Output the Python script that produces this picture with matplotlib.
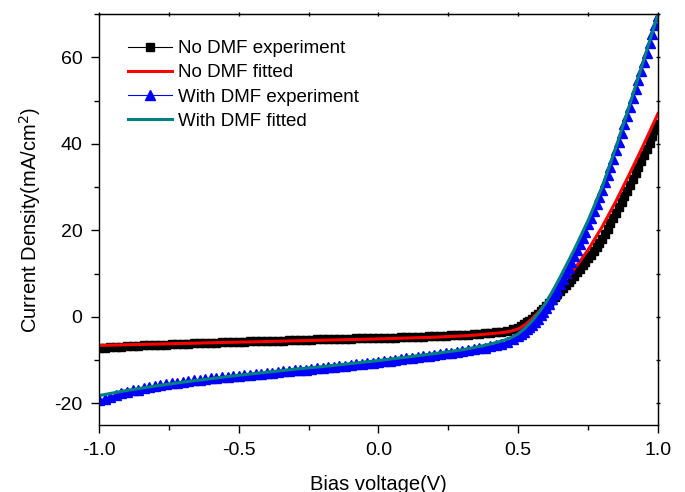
import numpy as np
import matplotlib
matplotlib.use('Agg')
import matplotlib.pyplot as plt
from matplotlib.ticker import MultipleLocator

plt.rcParams['font.family'] = ['Liberation Sans', 'DejaVu Sans']
plt.rcParams['axes.unicode_minus'] = False

# measured points: 0.02 V step below 0.5 V, 0.01 V step above
v_exp = np.round(np.concatenate([np.arange(-1.0, 0.49, 0.02), np.arange(0.50, 1.001, 0.01)]), 2)

j_no_dmf_exp = [
    -7.2, -7.1, -7.0, -7.0, -6.9, -6.8, -6.8, -6.7, -6.6, -6.6,
    -6.5, -6.4, -6.4, -6.3, -6.3, -6.2, -6.2, -6.1, -6.1, -6.0,
    -6.0, -6.0, -5.9, -5.9, -5.8, -5.8, -5.8, -5.7, -5.7, -5.6,
    -5.6, -5.6, -5.5, -5.5, -5.4, -5.4, -5.4, -5.3, -5.3, -5.2,
    -5.2, -5.2, -5.2, -5.1, -5.1, -5.1, -5.0, -5.0, -5.0, -4.9,
    -4.9, -4.9, -4.8, -4.8, -4.7, -4.7, -4.7, -4.6, -4.6, -4.5,
    -4.5, -4.4, -4.4, -4.3, -4.3, -4.2, -4.1, -4.0, -3.9, -3.8,
    -3.7, -3.6, -3.4, -3.2, -2.9,
    -2.5, -2.1, -1.7, -1.3, -0.9, -0.5, 0.1, 0.7, 1.3, 1.9,
    2.5, 3.2, 3.9, 4.6, 5.3, 6.0, 6.7, 7.4, 8.1, 8.8,
    9.5, 10.3, 11.1, 11.9, 12.7, 13.5, 14.4, 15.3, 16.2, 17.1,
    18.0, 19.2, 20.4, 21.6, 22.8, 24.0, 25.3, 26.6, 27.9, 29.2,
    30.5, 31.9, 33.3, 34.7, 36.1, 37.5, 38.9, 40.3, 41.7, 43.1,
    44.5,
]

j_dmf_exp = [
    -19.3, -18.9, -18.5, -18.1, -17.7, -17.3, -17.0, -16.8, -16.5, -16.2,
    -16.0, -15.8, -15.6, -15.4, -15.2, -15.0, -14.8, -14.7, -14.5, -14.4,
    -14.2, -14.1, -14.0, -13.8, -13.7, -13.6, -13.5, -13.4, -13.2, -13.1,
    -13.0, -12.9, -12.8, -12.6, -12.5, -12.4, -12.3, -12.2, -12.0, -11.9,
    -11.8, -11.7, -11.5, -11.4, -11.3, -11.1, -11.0, -10.8, -10.7, -10.6,
    -10.4, -10.2, -10.1, -9.9, -9.8, -9.6, -9.4, -9.3, -9.1, -9.0,
    -8.8, -8.6, -8.4, -8.3, -8.1, -7.9, -7.7, -7.5, -7.3, -7.1,
    -6.8, -6.5, -6.2, -5.8, -5.2,
    -4.5, -4.0, -3.5, -2.9, -2.4, -1.8, -1.1, -0.4, 0.4, 1.2,
    2.0, 3.0, 4.1, 5.2, 6.3, 7.5, 8.8, 10.1, 11.4, 12.7,
    14.0, 15.4, 16.8, 18.2, 19.7, 21.4, 22.9, 24.4, 26.0, 27.6,
    29.3, 31.1, 32.9, 34.7, 36.6, 38.5, 40.5, 42.5, 44.5, 46.5,
    48.5, 50.6, 52.7, 54.8, 56.9, 59.0, 61.1, 63.2, 65.3, 67.4,
    69.5,
]

v_fit = [-1.0, -0.9, -0.8, -0.7, -0.6, -0.5, -0.4, -0.3, -0.2, -0.1,
         0.0, 0.1, 0.2, 0.3, 0.35, 0.4, 0.45, 0.475, 0.5, 0.525,
         0.55, 0.575, 0.6, 0.625, 0.65, 0.7, 0.75, 0.8, 0.85, 0.9,
         0.95, 1.0]

j_no_dmf_fit = [-6.6, -6.45, -6.3, -6.15, -6.0, -5.85, -5.7, -5.55, -5.4, -5.25,
                -5.1, -4.9, -4.7, -4.4, -4.2, -3.9, -3.6, -3.3, -2.8, -1.8,
                -0.4, 1.3, 3.1, 5.0, 7.0, 11.0, 15.5, 20.8, 26.8, 33.3,
                40.0, 47.0]

j_dmf_fit = [-18.2, -17.0, -16.0, -15.1, -14.3, -13.5, -12.8, -12.1, -11.5, -10.8,
             -10.1, -9.3, -8.5, -7.6, -7.0, -6.3, -5.4, -4.8, -3.9, -2.6,
             -0.9, 1.1, 3.4, 6.2, 9.2, 15.5, 22.3, 30.0, 39.3, 49.3,
             59.6, 70.0]

fig = plt.figure(figsize=(6.85, 4.92), dpi=100)
ax = fig.add_axes([0.1445, 0.1362, 0.8161, 0.8353])

ax.plot(v_exp, j_no_dmf_exp, color='black', lw=0.8, marker='s', ms=6,
        label='No DMF experiment')
ax.plot(v_fit, j_no_dmf_fit, color='#ff0000', lw=2.2, label='No DMF fitted')
ax.plot(v_exp, j_dmf_exp, color='#0000ff', lw=0.8, marker='^', ms=6.5,
        label='With DMF experiment')
ax.plot(v_fit, j_dmf_fit, color='#008080', lw=2.2, label='With DMF fitted')

ax.set_xlim(-1.0, 1.0)
ax.set_ylim(-25, 70)
ax.xaxis.set_major_locator(MultipleLocator(0.5))
ax.xaxis.set_minor_locator(MultipleLocator(0.25))
ax.yaxis.set_major_locator(MultipleLocator(20))
ax.yaxis.set_minor_locator(MultipleLocator(10))

ax.tick_params(which='both', direction='out', labelsize=14, width=1)
ax.tick_params(which='major', length=6, pad=6)
ax.tick_params(which='minor', length=3.5)
for s in ax.spines.values():
    s.set_linewidth(1.0)

# small mirrored ticks on top and right
top = ax.secondary_xaxis('top')
top.xaxis.set_major_locator(MultipleLocator(0.5))
top.xaxis.set_minor_locator(MultipleLocator(0.25))
top.tick_params(which='both', direction='inout', length=3, width=1, labeltop=False)
right = ax.secondary_yaxis('right')
right.yaxis.set_major_locator(MultipleLocator(20))
right.yaxis.set_minor_locator(MultipleLocator(10))
right.tick_params(which='both', direction='inout', length=3, width=1, labelright=False)

ax.set_xlabel('Bias voltage(V)', fontsize=14.5, labelpad=12)
ax.set_ylabel('Current Density(mA/cm$^2$)', fontsize=14.5, labelpad=8)

ax.legend(loc='upper left', bbox_to_anchor=(0.039, 0.955), frameon=False,
          fontsize=13.5, handlelength=2.35, handletextpad=0.32,
          labelspacing=0.38, borderaxespad=0)

fig.savefig('out.png', dpi=100)
